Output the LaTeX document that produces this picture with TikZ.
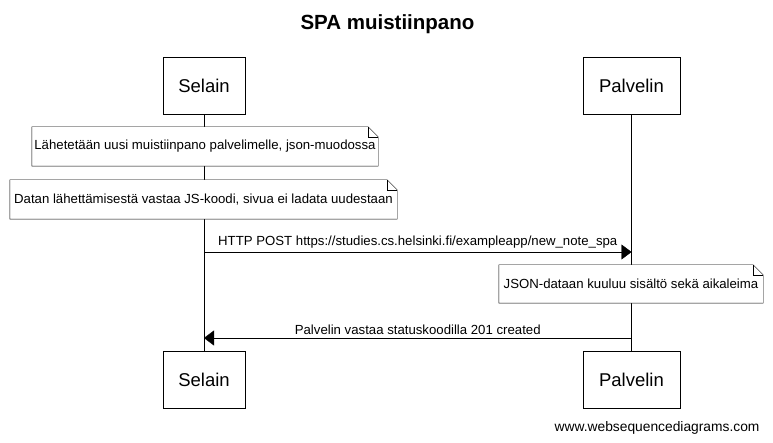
\documentclass[tikz,border=0pt]{standalone}
\usepackage{fontspec}
\setmainfont{Liberation Sans}
\usetikzlibrary{positioning,arrows.meta}

\newcommand{\dogear}[1]{%
  \draw[fill=white] (#1.south west) -- (#1.north west) -- ([xshift=-10pt]#1.north east)
    -- ([yshift=-10pt]#1.north east) -- (#1.south east) -- cycle;
  \draw ([xshift=-10pt]#1.north east) |- ([yshift=-10pt]#1.north east);
}

\begin{document}
\begin{tikzpicture}[
    x=1pt,y=1pt,
    actor/.style={draw,fill=white,minimum height=57pt,inner sep=0pt,font=\fontsize{18.5}{22}\selectfont},
    note/.style={minimum height=39pt,inner sep=0pt,font=\fontsize{13.2}{15}\selectfont},
    msg/.style={-{Triangle[length=10pt,width=15pt]}},
    lbl/.style={font=\fontsize{13.2}{15}\selectfont,above=0pt}
    ]
    \useasboundingbox (0,0) rectangle (773,443);

    \node[font=\bfseries\fontsize{20.5}{24}\selectfont] (title) at (387.5,419) {SPA muistiinpano};

    \node[actor,minimum width=82pt] (s1) at (204,357.5) {Selain};
    \node[actor,minimum width=97pt] (p1) at (631.5,357.5) {Palvelin};
    \node[actor,minimum width=82pt] (s2) at (204,63) {Selain};
    \node[actor,minimum width=97pt] (p2) at (631.5,63) {Palvelin};

    \draw (s1) -- (s2);
    \draw (p1) -- (p2);

    % notes
    \node[note,minimum width=346pt] (n1) at (205,296.5) {};
    \dogear{n1}
    \node[note] at (n1) {Lähetetään uusi muistiinpano palvelimelle, json-muodossa};
    \node[note,minimum width=387pt] (n2) at (203.5,243.5) {};
    \dogear{n2}
    \node[note] at (n2) {Datan lähettämisestä vastaa JS-koodi, sivua ei ladata uudestaan};
    \node[note,minimum width=264pt,minimum height=38pt] (n3) at (631,159) {};
    \dogear{n3}
    \node[note] at (n3) {JSON-dataan kuuluu sisältö sekä aikaleima};

    % messages
    \coordinate (a1) at (204,191);
    \coordinate (b1) at (631.5,191);
    \draw[msg] (a1) -- node[lbl] {HTTP POST https://studies.cs.helsinki.fi/exampleapp/new\_note\_spa} (b1);
    \coordinate (a2) at (631.5,105);
    \coordinate (b2) at (204,105);
    \draw[msg] (a2) -- node[lbl] {Palvelin vastaa statuskoodilla 201 created} (b2);

    \node[anchor=east,font=\fontsize{13.8}{16}\selectfont] (wsd) at (763,15) {www.websequencediagrams.com};
\end{tikzpicture}
\end{document}
